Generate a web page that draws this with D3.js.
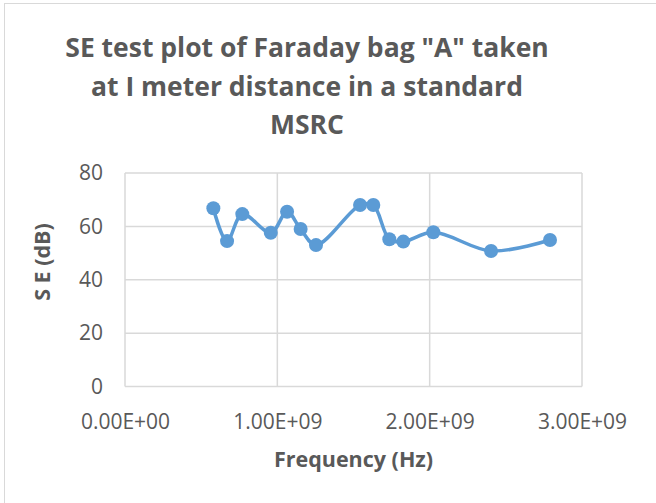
<!DOCTYPE html>
<html>
<head>
<meta charset="utf-8">
<script src="https://cdn.jsdelivr.net/npm/d3@7"></script>
<style>
body { margin: 0; background: #fff; }
text { font-family: "Open Sans", sans-serif; fill: #595959; }
</style>
</head>
<body>
<script>
var frequency = [0.58e9, 0.67e9, 0.77e9, 0.957e9, 1.064e9, 1.153e9, 1.254e9,
                 1.543e9, 1.63e9, 1.735e9, 1.827e9, 2.024e9, 2.403e9, 2.79e9];
var seValues = [66.8, 54.5, 64.6, 57.6, 65.5, 59.0, 53.0,
                68.0, 68.0, 55.2, 54.3, 57.8, 50.8, 54.9];
var xTicks = [0, 1e9, 2e9, 3e9];
var yTicks = [0, 20, 40, 60, 80];
var titleLines = ['SE test plot of Faraday bag "A" taken',
                  'at I meter distance in a standard',
                  'MSRC'];

var w = 656, h = 503;
var plotLeft = 125, plotRight = 582, plotTop = 173, plotBottom = 386.6;
var lineColor = '#5b9bd5';
var gridColor = '#d9d9d9';

var svg = d3.select('body').append('svg')
    .attr('width', w)
    .attr('height', h);

// chart frame
svg.append('rect')
    .attr('x', 4.5).attr('y', 3.5)
    .attr('width', 800).attr('height', 700)
    .style('fill', 'none')
    .style('stroke', gridColor);

var x = d3.scaleLinear().domain([0, 3e9]).range([plotLeft, plotRight]);
var y = d3.scaleLinear().domain([0, 80]).range([plotBottom, plotTop]);

// gridlines
svg.selectAll('.hgrid')
    .data(yTicks)
    .enter().append('line')
    .attr('class', 'hgrid')
    .attr('x1', plotLeft).attr('x2', plotRight)
    .attr('y1', function(d) { return y(d); })
    .attr('y2', function(d) { return y(d); })
    .style('stroke', gridColor)
    .style('stroke-width', 1.5);

svg.selectAll('.vgrid')
    .data(xTicks)
    .enter().append('line')
    .attr('class', 'vgrid')
    .attr('y1', plotTop).attr('y2', plotBottom)
    .attr('x1', function(d) { return x(d); })
    .attr('x2', function(d) { return x(d); })
    .style('stroke', gridColor)
    .style('stroke-width', 1.5);

// axes (labels only, Excel style)
var xAxis = svg.append('g')
    .attr('transform', 'translate(0,' + (plotBottom + 24) + ')')
    .call(d3.axisBottom(x).tickValues(xTicks).tickSize(0)
          .tickFormat(function(d) {
              return d3.format('.2e')(d).replace('e', 'E').replace(/E([+-])(\d)$/, 'E$10$2');
          }));
xAxis.select('.domain').remove();
xAxis.selectAll('text')
    .style('font-size', '21px')
    .style('fill', '#595959');

var yAxis = svg.append('g')
    .attr('transform', 'translate(' + (plotLeft - 22) + ',0)')
    .call(d3.axisLeft(y).tickValues(yTicks).tickSize(0));
yAxis.select('.domain').remove();
yAxis.selectAll('text')
    .attr('x', 0)
    .style('font-size', '21px')
    .style('fill', '#595959');

// series
var pts = frequency.map(function(f, i) { return [f, seValues[i]]; });

var line = d3.line()
    .x(function(d) { return x(d[0]); })
    .y(function(d) { return y(d[1]); })
    .curve(d3.curveCatmullRom.alpha(0.5));

svg.append('path')
    .datum(pts)
    .attr('d', line)
    .style('fill', 'none')
    .style('stroke', lineColor)
    .style('stroke-width', 3.5)
    .style('stroke-linejoin', 'round');

svg.selectAll('.pt')
    .data(pts)
    .enter().append('circle')
    .attr('class', 'pt')
    .attr('cx', function(d) { return x(d[0]); })
    .attr('cy', function(d) { return y(d[1]); })
    .attr('r', 7)
    .style('fill', lineColor);

// title
svg.selectAll('.title')
    .data(titleLines)
    .enter().append('text')
    .attr('class', 'title')
    .attr('x', 307)
    .attr('y', function(d, i) { return 57 + i * 38.5; })
    .attr('text-anchor', 'middle')
    .style('font-size', '26.5px')
    .style('font-weight', 'bold')
    .text(function(d) { return d; });

// axis titles
svg.append('text')
    .attr('x', (plotLeft + plotRight) / 2)
    .attr('y', 467)
    .attr('text-anchor', 'middle')
    .style('font-size', '21.5px')
    .style('font-weight', 'bold')
    .text('Frequency (Hz)');

svg.append('text')
    .attr('transform', 'translate(50,262) rotate(-90)')
    .attr('text-anchor', 'middle')
    .style('font-size', '21.5px')
    .style('font-weight', 'bold')
    .text('S E (dB)');
</script>
</body>
</html>
